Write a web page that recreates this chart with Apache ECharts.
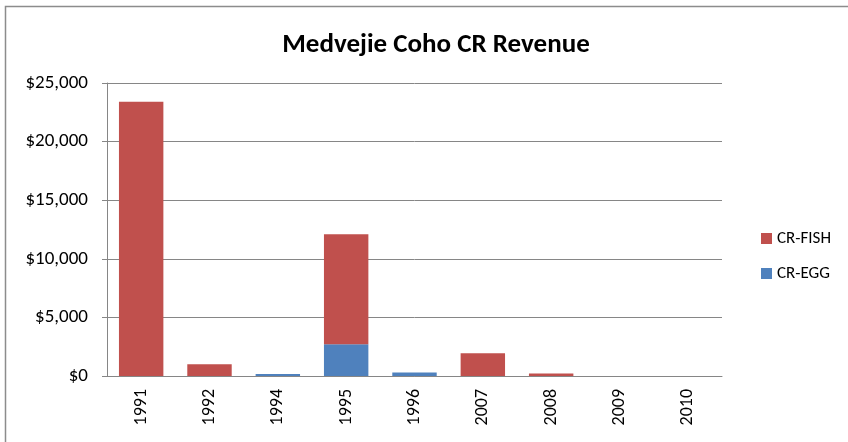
<!DOCTYPE html>
<html>
<head>
<meta charset="utf-8">
<script src="https://cdn.jsdelivr.net/npm/echarts@6/dist/echarts.min.js"></script>
<style>
  html, body { margin: 0; padding: 0; background: #fff; }
  #chart { width: 848px; height: 442px; }
</style>
</head>
<body>
<div id="chart"></div>
<script>
// years on the x axis
const years = ['1991', '1992', '1994', '1995', '1996', '2007', '2008', '2009', '2010'];
// revenue, stacked: eggs at the bottom, fish on top
const eggRevenue = [0, 0, 180, 2700, 300, 0, 0, 0, 0];
const fishRevenue = [23400, 1000, 0, 9400, 0, 1950, 220, 0, 0];
const yTicks = [0, 5000, 10000, 15000, 20000, 25000];

const font = 'Carlito, Lato, "Liberation Sans", sans-serif';

const chart = echarts.init(document.getElementById('chart'));
chart.setOption({
  animation: false,
  textStyle: { fontFamily: font },
  // chart area border (only left and top edges fall inside the picture)
  graphic: [{
    type: 'rect',
    shape: { x: 5.5, y: 6.5, width: 900, height: 500 },
    style: { fill: 'none', stroke: '#8c8c8c', lineWidth: 1.5 }
  }],
  title: {
    text: 'Medvejie Coho CR Revenue',
    left: 431,
    textAlign: 'center',
    top: 27,
    textStyle: { fontFamily: font, fontSize: 27, fontWeight: 'bold', color: '#000' }
  },
  legend: {
    orient: 'vertical',
    left: 756,
    top: 225,
    itemWidth: 11,
    itemHeight: 11,
    itemGap: 18,
    icon: 'rect',
    data: ['CR-FISH', 'CR-EGG'],
    textStyle: { fontFamily: font, fontSize: 17, color: '#000' }
  },
  grid: { left: 107, right: 126, top: 83, bottom: 66, containLabel: false },
  xAxis: {
    type: 'category',
    data: years,
    axisLine: { lineStyle: { color: '#868686' } },
    axisTick: { show: false },
    axisLabel: { rotate: 90, color: '#000', fontSize: 18, fontFamily: font, margin: 13 }
  },
  yAxis: {
    type: 'value',
    min: yTicks[0],
    max: yTicks[yTicks.length - 1],
    interval: 5000,
    axisLine: { show: true, lineStyle: { color: '#868686' } },
    axisTick: { show: true, length: 5, lineStyle: { color: '#868686' } },
    splitLine: { lineStyle: { color: '#868686' } },
    axisLabel: {
      color: '#000', fontSize: 19, fontFamily: font, margin: 19,
      formatter: v => '$' + v.toLocaleString('en-US')
    }
  },
  series: [
    {
      name: 'CR-EGG', type: 'bar', stack: 'rev', data: eggRevenue,
      barCategoryGap: '35%',
      itemStyle: { color: '#4F81BD' }
    },
    {
      name: 'CR-FISH', type: 'bar', stack: 'rev', data: fishRevenue,
      barCategoryGap: '35%',
      itemStyle: { color: '#C0504D' }
    }
  ]
});
</script>
</body>
</html>
